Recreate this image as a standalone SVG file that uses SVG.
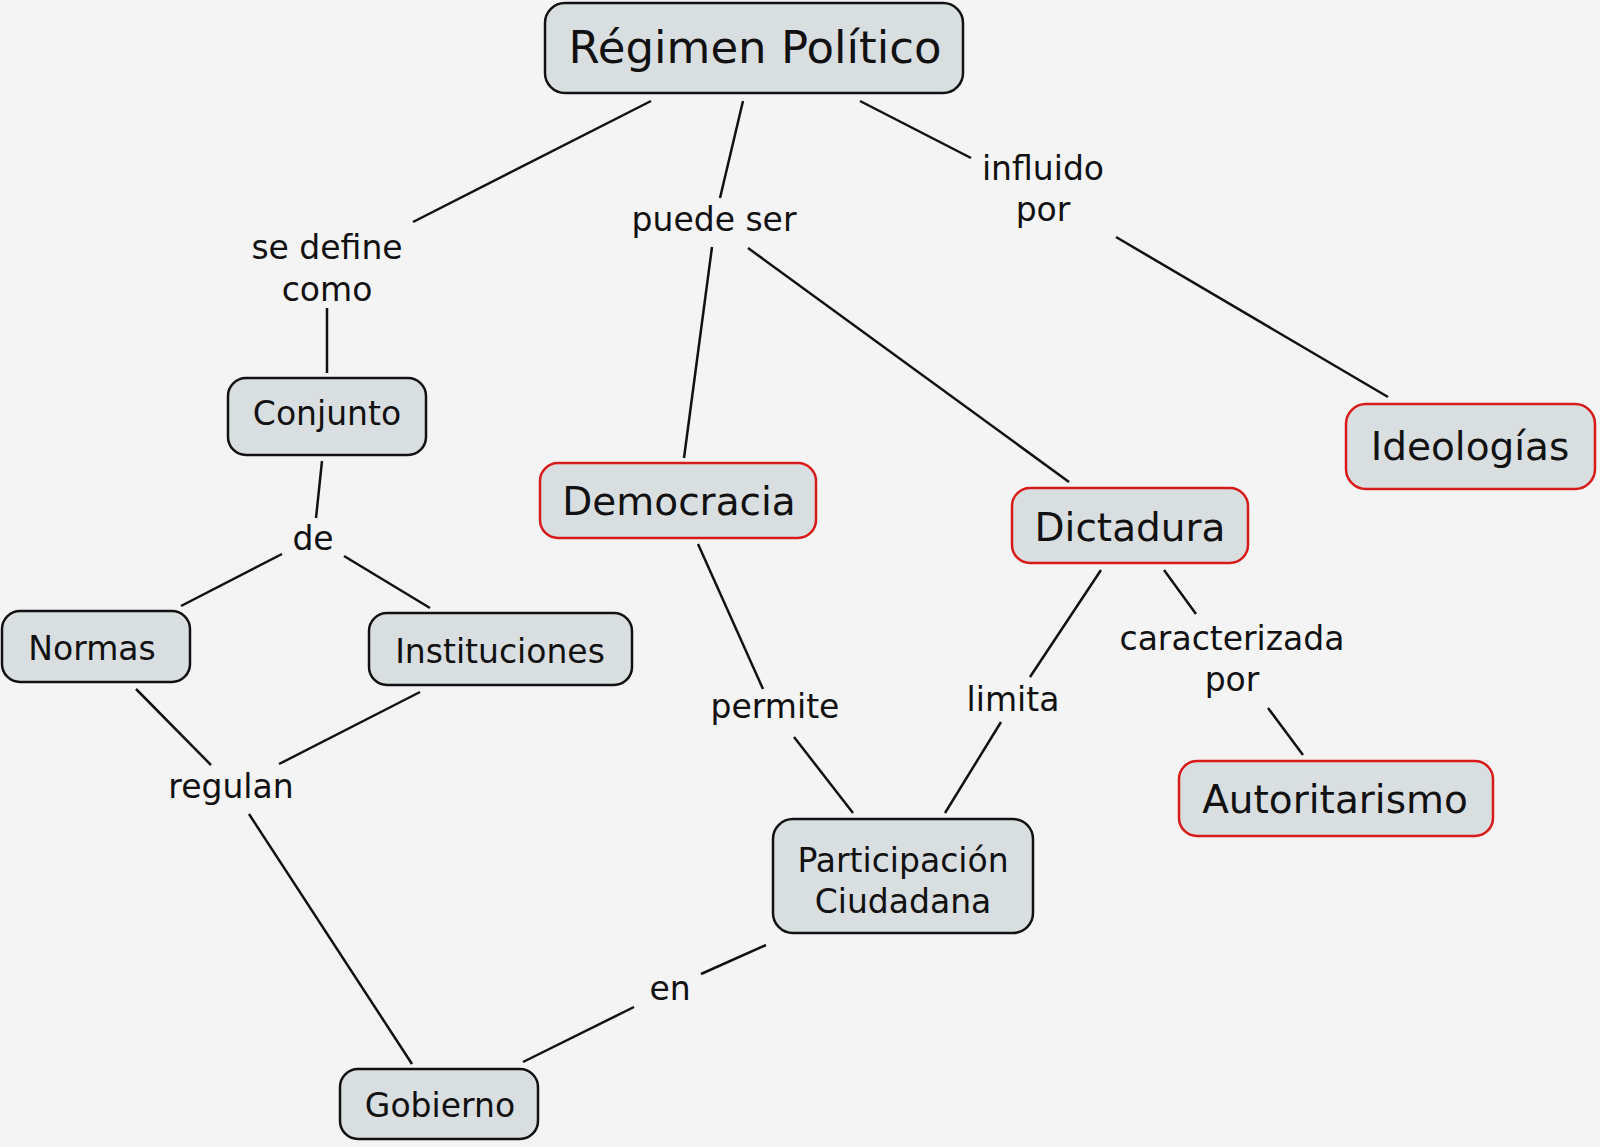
<svg xmlns="http://www.w3.org/2000/svg" width="1600" height="1147" viewBox="0 0 1600 1147">
<style>
.bg{fill:#f4f4f4}
.n rect{fill:#d9dee0;stroke:#111;stroke-width:2.5}
.r rect{stroke:#d91a1a}
text{font-family:"DejaVu Sans","Verdana",sans-serif;fill:#111;text-anchor:middle}
.t{font-size:33px}
.m{font-size:39px}
.l{font-size:45px}
#links line{stroke:#111;stroke-width:2.5}
</style>
<rect class="bg" x="0" y="0" width="1600" height="1147"/>
<g id="links">
<line x1="651" y1="101" x2="413" y2="222"/>
<line x1="327" y1="308" x2="327" y2="373"/>
<line x1="743" y1="101" x2="720" y2="198"/>
<line x1="712" y1="247" x2="684" y2="458"/>
<line x1="748" y1="248" x2="1069" y2="482"/>
<line x1="860" y1="101" x2="971" y2="158"/>
<line x1="1116" y1="237" x2="1388" y2="397"/>
<line x1="322" y1="461" x2="316" y2="518"/>
<line x1="282" y1="554" x2="181" y2="606"/>
<line x1="344" y1="556" x2="430" y2="608"/>
<line x1="136" y1="689" x2="211" y2="765"/>
<line x1="420" y1="692" x2="279" y2="764"/>
<line x1="249" y1="814" x2="412" y2="1064"/>
<line x1="698" y1="544" x2="763" y2="689"/>
<line x1="794" y1="737" x2="853" y2="813"/>
<line x1="1101" y1="570" x2="1030" y2="677"/>
<line x1="1001" y1="722" x2="945" y2="813"/>
<line x1="1164" y1="570" x2="1196" y2="614"/>
<line x1="1268" y1="708" x2="1303" y2="755"/>
<line x1="766" y1="945" x2="701" y2="974"/>
<line x1="634" y1="1007" x2="523" y2="1062"/>
</g>
<g id="labels">
<text class="t" x="327" y="259">se define</text>
<text class="t" x="327" y="301">como</text>
<text class="t" x="714" y="231">puede ser</text>
<text class="t" x="1043" y="180">influido</text>
<text class="t" x="1043" y="221">por</text>
<text class="t" x="313" y="550">de</text>
<text class="t" x="775" y="718">permite</text>
<text class="t" x="1013" y="711">limita</text>
<text class="t" x="1232" y="650">caracterizada</text>
<text class="t" x="1232" y="691">por</text>
<text class="t" x="231" y="798">regulan</text>
<text class="t" x="670" y="1000">en</text>
</g>
<g id="regimen" class="n"><rect x="545" y="3" width="418" height="90" rx="20"/><text class="l" x="755" y="63">Régimen Político</text></g>
<g id="conjunto" class="n"><rect x="228" y="378" width="198" height="77" rx="18"/><text class="t" x="327" y="425">Conjunto</text></g>
<g id="normas" class="n"><rect x="2" y="611" width="188" height="71" rx="18"/><text class="t" x="92" y="660">Normas</text></g>
<g id="instituciones" class="n"><rect x="369" y="613" width="263" height="72" rx="18"/><text class="t" x="500" y="663">Instituciones</text></g>
<g id="democracia" class="n r"><rect x="540" y="463" width="276" height="75" rx="18"/><text class="m" x="679" y="515">Democracia</text></g>
<g id="dictadura" class="n r"><rect x="1012" y="488" width="236" height="75" rx="18"/><text class="m" x="1130" y="541">Dictadura</text></g>
<g id="ideologias" class="n r"><rect x="1346" y="404" width="249" height="85" rx="20"/><text class="m" x="1470" y="460">Ideologías</text></g>
<g id="autoritarismo" class="n r"><rect x="1179" y="761" width="314" height="75" rx="18"/><text class="m" x="1335" y="813">Autoritarismo</text></g>
<g id="participacion" class="n"><rect x="773" y="819" width="260" height="114" rx="20"/><text class="t" x="903" y="872">Participación</text><text class="t" x="903" y="913">Ciudadana</text></g>
<g id="gobierno" class="n"><rect x="340" y="1069" width="198" height="70" rx="18"/><text class="t" x="440" y="1117">Gobierno</text></g>
</svg>
